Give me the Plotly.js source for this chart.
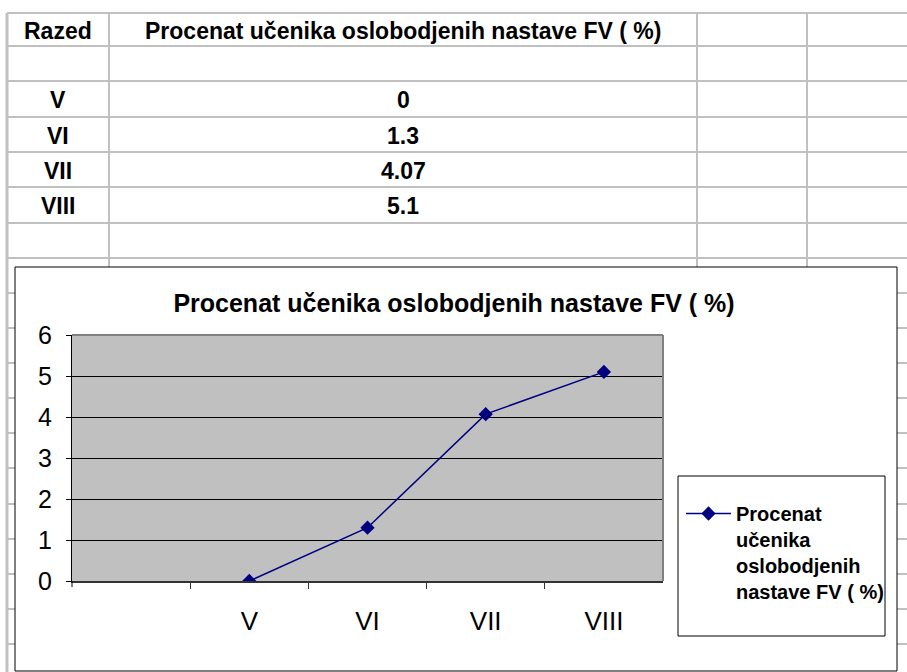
<!DOCTYPE html>
<html>
<head>
<meta charset="utf-8">
<script src="https://cdn.plot.ly/plotly-3.0.1.min.js"></script>
<style>html,body{margin:0;padding:0;background:#fff;}#chart{width:907px;height:672px;}</style>
</head>
<body>
<div id="chart"></div>
<script>
// ---- data ----
const headerLabels = ['Razed', 'Procenat učenika oslobodjenih nastave FV ( %)'];
const categories = ['V', 'VI', 'VII', 'VIII'];
const values = [0, 1.3, 4.07, 5.1];
const seriesName = 'Procenat učenika oslobodjenih nastave FV ( %)';
const legendLines = ['Procenat', 'učenika', 'oslobodjenih', 'nastave FV ( %)'];
const yTickValues = [0, 1, 2, 3, 4, 5, 6];

// ---- layout helpers (pixel -> paper) ----
const W = 907, H = 672;
const X = p => p / W;
const Y = p => 1 - p / H;
const GRID = '#c0c0c0';
const FONT = 'Arial, "Liberation Sans", sans-serif';

// spreadsheet geometry
const rowLines = [13, 46, 81, 117, 152, 187, 223, 258, 293, 328, 363, 398, 433, 468, 504, 539, 574, 609, 644];
const colLines = [7, 109, 697, 807];
const chartBox = {x0: 15, y0: 267, x1: 897, y1: 671};
const plotBox = {x0: 72, y0: 335, x1: 663, y1: 581};

const shapes = [];
rowLines.forEach(r => {
  if (r < chartBox.y0) {
    shapes.push({type: 'line', xref: 'paper', yref: 'paper', x0: X(7), x1: X(907), y0: Y(r), y1: Y(r), line: {color: GRID, width: 2}});
  } else {
    shapes.push({type: 'line', xref: 'paper', yref: 'paper', x0: X(7), x1: X(chartBox.x0), y0: Y(r), y1: Y(r), line: {color: GRID, width: 2}});
    shapes.push({type: 'line', xref: 'paper', yref: 'paper', x0: X(chartBox.x1), x1: X(907), y0: Y(r), y1: Y(r), line: {color: GRID, width: 2}});
  }
});
colLines.forEach((c, i) => {
  const yEnd = i === 0 ? 672 : chartBox.y0;
  shapes.push({type: 'line', xref: 'paper', yref: 'paper', x0: X(c), x1: X(c), y0: Y(13), y1: Y(yEnd), line: {color: GRID, width: i === 0 ? 3 : 2}});
});
// chart frame
shapes.push({type: 'rect', xref: 'paper', yref: 'paper', x0: X(chartBox.x0), x1: X(chartBox.x1), y0: Y(chartBox.y0), y1: Y(chartBox.y1), line: {color: '#000', width: 1}, fillcolor: 'rgba(0,0,0,0)'});
// plot area border (top & right grey)
shapes.push({type: 'line', xref: 'x domain', yref: 'y domain', x0: 0, x1: 1, y0: 1, y1: 1, line: {color: '#808080', width: 2}, layer: 'above'});
shapes.push({type: 'line', xref: 'x domain', yref: 'y domain', x0: 1, x1: 1, y0: 0, y1: 1, line: {color: '#808080', width: 2}, layer: 'above'});
// y axis line extends slightly below the x axis (Excel style)
shapes.push({type: 'line', xref: 'x domain', yref: 'paper', x0: 0, x1: 0, y0: Y(plotBox.y1), y1: Y(plotBox.y1 + 6), line: {color: '#000', width: 1}});
// legend box
shapes.push({type: 'rect', xref: 'paper', yref: 'paper', x0: X(678), x1: X(885), y0: Y(476), y1: Y(636), line: {color: '#000', width: 1}, fillcolor: '#fff'});

// table text
const annotations = [];
const col1c = (colLines[0] + colLines[1]) / 2;
const col2c = (colLines[1] + colLines[2]) / 2;
const cellText = (txt, xc, r0, r1) => annotations.push({
  xref: 'paper', yref: 'paper', x: X(xc), y: Y((r0 + r1) / 2 + 1), xanchor: 'center', yanchor: 'middle',
  text: '<b>' + txt + '</b>', showarrow: false, font: {family: FONT, size: 23, color: '#000'}
});
cellText(headerLabels[0], col1c, rowLines[0], rowLines[1]);
cellText(headerLabels[1], col2c, rowLines[0], rowLines[1]);
categories.forEach((c, i) => {
  cellText(c, col1c, rowLines[2 + i], rowLines[3 + i]);
  cellText(String(values[i]), col2c, rowLines[2 + i], rowLines[3 + i]);
});

const trace = {
  type: 'scatter', mode: 'lines+markers',
  x: categories, y: values,
  name: legendLines.join('<br>'),
  line: {color: '#000080', width: 1.5},
  marker: {symbol: 'diamond', size: 11, color: '#000080'}
};

const layout = {
  width: W, height: H, autosize: false,
  margin: {l: 0, r: 0, t: 0, b: 0},
  paper_bgcolor: '#fff', plot_bgcolor: '#c0c0c0',
  font: {family: FONT, color: '#000'},
  title: {text: '<b>' + seriesName + '</b>', x: 454 / W, xanchor: 'center', y: Y(303), yanchor: 'middle',
          font: {family: FONT, size: 25, color: '#000'}},
  xaxis: {
    domain: [X(plotBox.x0), X(plotBox.x1)],
    type: 'category', categoryorder: 'array', categoryarray: categories,
    range: [-1.5, categories.length - 0.5],
    tickson: 'boundaries', ticks: 'outside', ticklen: 6, tickcolor: '#333', tickwidth: 1,
    showgrid: false, zeroline: false,
    showline: true, linecolor: '#333', linewidth: 2,
    tickfont: {family: FONT, size: 26, color: '#000'},
    ticklabelstandoff: 16, fixedrange: true
  },
  yaxis: {
    domain: [Y(plotBox.y1), Y(plotBox.y0)],
    range: [0, 6], tickvals: yTickValues,
    ticks: 'outside', ticklen: 5, tickcolor: '#000', tickwidth: 1,
    showgrid: true, gridcolor: '#000', gridwidth: 1, zeroline: false,
    showline: true, linecolor: '#000', linewidth: 1,
    tickfont: {family: FONT, size: 25, color: '#000'},
    ticklabelstandoff: 9, fixedrange: true
  },
  showlegend: true,
  legend: {
    x: X(681), y: Y(494), xanchor: 'left', yanchor: 'top',
    bgcolor: 'rgba(0,0,0,0)', borderwidth: 0, valign: 'top',
    font: {family: FONT, size: 20, color: '#000', weight: 'bold'},
    itemwidth: 45
  },
  shapes: shapes,
  annotations: annotations
};

Plotly.newPlot('chart', [trace], layout, {displayModeBar: false, staticPlot: true});
</script>
</body>
</html>
